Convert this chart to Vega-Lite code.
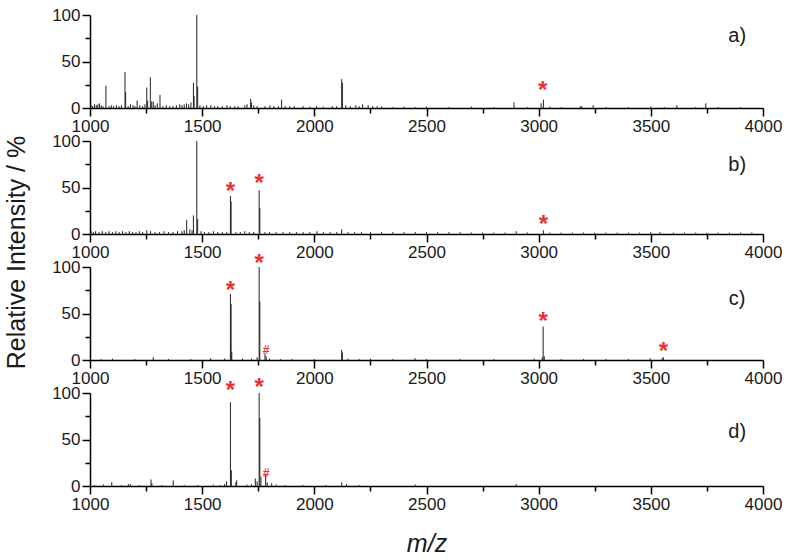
{
"$schema":"https://vega.github.io/schema/vega-lite/v6.json",
"background":"white",
"padding":{"left":4,"top":6,"right":4,"bottom":4},
"config":{"view":{"stroke":null},"font":"Liberation Sans",
 "axis":{"grid":false,"labelFlush":false,"labelOverlap":false,"domainColor":"#000","domainWidth":1.5,"tickColor":"#000","tickWidth":1.5,"tickSize":8,"labelFont":"Liberation Sans","labelFontSize":17,"labelColor":"#1a1a1a","labelPadding":2,"titleFont":"Liberation Sans","titleFontWeight":"normal","titleColor":"#1a1a1a"}},
"datasets":{
"spec":[
{"p":"a","mz":1071,"i":24},{"p":"a","mz":1156,"i":38.6},{"p":"a","mz":1159,"i":17},{"p":"a","mz":1210,"i":8},{"p":"a","mz":1253,"i":22},{"p":"a","mz":1257,"i":8},{"p":"a","mz":1269,"i":33},{"p":"a","mz":1275,"i":7},{"p":"a","mz":1282,"i":7},{"p":"a","mz":1312,"i":14},{"p":"a","mz":1461,"i":27},{"p":"a","mz":1464,"i":13},{"p":"a","mz":1476,"i":100},{"p":"a","mz":1480,"i":23},{"p":"a","mz":1716,"i":10},{"p":"a","mz":1720,"i":6},{"p":"a","mz":1854,"i":9},{"p":"a","mz":2122,"i":31},{"p":"a","mz":2125,"i":27},{"p":"a","mz":2890,"i":6},{"p":"a","mz":3011,"i":5},{"p":"a","mz":3021,"i":9},{"p":"a","mz":3192,"i":2},{"p":"a","mz":3243,"i":3},{"p":"a","mz":3616,"i":3},{"p":"a","mz":3745,"i":5},
{"p":"a","mz":1005,"i":3},{"p":"a","mz":1012,"i":2},{"p":"a","mz":1020,"i":4},{"p":"a","mz":1028,"i":3},{"p":"a","mz":1035,"i":4},{"p":"a","mz":1042,"i":5},{"p":"a","mz":1050,"i":3},{"p":"a","mz":1058,"i":2},{"p":"a","mz":1085,"i":2},{"p":"a","mz":1095,"i":3},{"p":"a","mz":1105,"i":2},{"p":"a","mz":1118,"i":3},{"p":"a","mz":1130,"i":2},{"p":"a","mz":1140,"i":3},{"p":"a","mz":1170,"i":2},{"p":"a","mz":1180,"i":4},{"p":"a","mz":1192,"i":3},{"p":"a","mz":1200,"i":2},{"p":"a","mz":1222,"i":3},{"p":"a","mz":1235,"i":2},{"p":"a","mz":1245,"i":4},{"p":"a","mz":1290,"i":3},{"p":"a","mz":1300,"i":5},{"p":"a","mz":1325,"i":2},{"p":"a","mz":1340,"i":3},{"p":"a","mz":1355,"i":2},{"p":"a","mz":1370,"i":2},{"p":"a","mz":1385,"i":3},{"p":"a","mz":1400,"i":4},{"p":"a","mz":1410,"i":3},{"p":"a","mz":1420,"i":4},{"p":"a","mz":1430,"i":5},{"p":"a","mz":1440,"i":4},{"p":"a","mz":1450,"i":6},{"p":"a","mz":1490,"i":3},{"p":"a","mz":1505,"i":2},{"p":"a","mz":1520,"i":3},{"p":"a","mz":1539,"i":3},{"p":"a","mz":1555,"i":2},{"p":"a","mz":1570,"i":2},{"p":"a","mz":1590,"i":2},{"p":"a","mz":1610,"i":3},{"p":"a","mz":1625,"i":2},{"p":"a","mz":1645,"i":2},{"p":"a","mz":1660,"i":2},{"p":"a","mz":1690,"i":3},{"p":"a","mz":1700,"i":4},{"p":"a","mz":1730,"i":3},{"p":"a","mz":1745,"i":2},{"p":"a","mz":1780,"i":2},{"p":"a","mz":1802,"i":3},{"p":"a","mz":1820,"i":2},{"p":"a","mz":1840,"i":2},{"p":"a","mz":1870,"i":2},{"p":"a","mz":1890,"i":2},{"p":"a","mz":1910,"i":2},{"p":"a","mz":1950,"i":2},{"p":"a","mz":1980,"i":1.5},{"p":"a","mz":2010,"i":2},{"p":"a","mz":2040,"i":1.5},{"p":"a","mz":2080,"i":2},{"p":"a","mz":2100,"i":2},{"p":"a","mz":2140,"i":3},{"p":"a","mz":2160,"i":2},{"p":"a","mz":2185,"i":3},{"p":"a","mz":2200,"i":2},{"p":"a","mz":2215,"i":4},{"p":"a","mz":2240,"i":3},{"p":"a","mz":2260,"i":2},{"p":"a","mz":2280,"i":2},{"p":"a","mz":2300,"i":1.5},{"p":"a","mz":2350,"i":1},{"p":"a","mz":2400,"i":1.5},{"p":"a","mz":2450,"i":1},{"p":"a","mz":2500,"i":1.5},{"p":"a","mz":2600,"i":1},{"p":"a","mz":2700,"i":1.5},{"p":"a","mz":2800,"i":1},{"p":"a","mz":2950,"i":1},{"p":"a","mz":3050,"i":1.5},{"p":"a","mz":3100,"i":1},{"p":"a","mz":3185,"i":2},{"p":"a","mz":3300,"i":1},{"p":"a","mz":3400,"i":1},{"p":"a","mz":3500,"i":1.5},{"p":"a","mz":3560,"i":1},{"p":"a","mz":3700,"i":1},{"p":"a","mz":3800,"i":1},{"p":"a","mz":3900,"i":1},
{"p":"b","mz":1431,"i":15},{"p":"b","mz":1461,"i":20},{"p":"b","mz":1476,"i":100},{"p":"b","mz":1480,"i":16},{"p":"b","mz":1626,"i":41},{"p":"b","mz":1629,"i":35},{"p":"b","mz":1754,"i":47},{"p":"b","mz":1757,"i":28},{"p":"b","mz":1253,"i":4},{"p":"b","mz":2122,"i":5},{"p":"b","mz":2012,"i":3},{"p":"b","mz":2900,"i":3},{"p":"b","mz":3021,"i":4},{"p":"b","mz":3500,"i":2},{"p":"b","mz":3540,"i":2},
{"p":"b","mz":1005,"i":3},{"p":"b","mz":1015,"i":2},{"p":"b","mz":1025,"i":3},{"p":"b","mz":1040,"i":2},{"p":"b","mz":1055,"i":3},{"p":"b","mz":1070,"i":2},{"p":"b","mz":1085,"i":3},{"p":"b","mz":1100,"i":2},{"p":"b","mz":1115,"i":3},{"p":"b","mz":1130,"i":2},{"p":"b","mz":1145,"i":3},{"p":"b","mz":1160,"i":2},{"p":"b","mz":1175,"i":3},{"p":"b","mz":1190,"i":2},{"p":"b","mz":1205,"i":2},{"p":"b","mz":1220,"i":3},{"p":"b","mz":1235,"i":2},{"p":"b","mz":1270,"i":3},{"p":"b","mz":1290,"i":2},{"p":"b","mz":1310,"i":2},{"p":"b","mz":1330,"i":3},{"p":"b","mz":1350,"i":2},{"p":"b","mz":1370,"i":2},{"p":"b","mz":1390,"i":3},{"p":"b","mz":1410,"i":3},{"p":"b","mz":1420,"i":4},{"p":"b","mz":1445,"i":5},{"p":"b","mz":1455,"i":4},{"p":"b","mz":1495,"i":3},{"p":"b","mz":1510,"i":2},{"p":"b","mz":1530,"i":2},{"p":"b","mz":1550,"i":3},{"p":"b","mz":1570,"i":2},{"p":"b","mz":1590,"i":2},{"p":"b","mz":1610,"i":2},{"p":"b","mz":1650,"i":2},{"p":"b","mz":1670,"i":2},{"p":"b","mz":1690,"i":3},{"p":"b","mz":1710,"i":2},{"p":"b","mz":1730,"i":2},{"p":"b","mz":1780,"i":2},{"p":"b","mz":1800,"i":2},{"p":"b","mz":1830,"i":2},{"p":"b","mz":1860,"i":2},{"p":"b","mz":1890,"i":2},{"p":"b","mz":1920,"i":2},{"p":"b","mz":1950,"i":2},{"p":"b","mz":1980,"i":2},{"p":"b","mz":2040,"i":2},{"p":"b","mz":2070,"i":2},{"p":"b","mz":2100,"i":2},{"p":"b","mz":2150,"i":2},{"p":"b","mz":2180,"i":2},{"p":"b","mz":2210,"i":2},{"p":"b","mz":2250,"i":2},{"p":"b","mz":2300,"i":2},{"p":"b","mz":2350,"i":2},{"p":"b","mz":2400,"i":2},{"p":"b","mz":2450,"i":2},{"p":"b","mz":2500,"i":2},{"p":"b","mz":2550,"i":2},{"p":"b","mz":2600,"i":2},{"p":"b","mz":2650,"i":2},{"p":"b","mz":2700,"i":1.5},{"p":"b","mz":2750,"i":1.5},{"p":"b","mz":2800,"i":1.5},{"p":"b","mz":2850,"i":1.5},{"p":"b","mz":2950,"i":1.5},{"p":"b","mz":3050,"i":1.5},{"p":"b","mz":3100,"i":1.5},{"p":"b","mz":3150,"i":1.5},{"p":"b","mz":3200,"i":1.5},{"p":"b","mz":3250,"i":1.5},{"p":"b","mz":3300,"i":1.5},{"p":"b","mz":3350,"i":1.5},{"p":"b","mz":3400,"i":1.5},{"p":"b","mz":3450,"i":1.5},{"p":"b","mz":3600,"i":1.5},{"p":"b","mz":3650,"i":1.5},{"p":"b","mz":3700,"i":1.5},{"p":"b","mz":3750,"i":1.5},{"p":"b","mz":3800,"i":1.5},{"p":"b","mz":3850,"i":1.5},{"p":"b","mz":3900,"i":1.5},{"p":"b","mz":3950,"i":1.5},
{"p":"c","mz":1626,"i":71},{"p":"c","mz":1629,"i":60},{"p":"c","mz":1632,"i":9},{"p":"c","mz":1754,"i":100},{"p":"c","mz":1757,"i":63},{"p":"c","mz":1745,"i":3},{"p":"c","mz":1780,"i":7},{"p":"c","mz":1785,"i":4},{"p":"c","mz":2122,"i":11},{"p":"c","mz":2125,"i":8},{"p":"c","mz":1282,"i":3},{"p":"c","mz":1538,"i":2},{"p":"c","mz":3020,"i":36},{"p":"c","mz":3016,"i":3},{"p":"c","mz":3025,"i":4},{"p":"c","mz":3556,"i":3},{"p":"c","mz":3550,"i":2},{"p":"c","mz":3497,"i":2},{"p":"c","mz":2449,"i":2},{"p":"c","mz":1050,"i":1},{"p":"c","mz":1100,"i":1.5},{"p":"c","mz":1200,"i":1},{"p":"c","mz":1350,"i":1},{"p":"c","mz":1450,"i":1},{"p":"c","mz":1600,"i":1.5},{"p":"c","mz":1680,"i":1.5},{"p":"c","mz":1720,"i":1.5},{"p":"c","mz":1800,"i":1.5},{"p":"c","mz":1850,"i":1},{"p":"c","mz":1900,"i":1},{"p":"c","mz":2000,"i":1},{"p":"c","mz":2150,"i":1.5},{"p":"c","mz":2200,"i":1},{"p":"c","mz":2250,"i":1.5},{"p":"c","mz":2350,"i":1},{"p":"c","mz":2500,"i":1},{"p":"c","mz":2650,"i":1},{"p":"c","mz":2800,"i":1},{"p":"c","mz":2980,"i":1.5},{"p":"c","mz":3100,"i":1},{"p":"c","mz":3200,"i":1},{"p":"c","mz":3300,"i":1},{"p":"c","mz":3400,"i":1},
{"p":"d","mz":1626,"i":90},{"p":"d","mz":1630,"i":17},{"p":"d","mz":1654,"i":6},{"p":"d","mz":1650,"i":4},{"p":"d","mz":1609,"i":5},{"p":"d","mz":1600,"i":2},{"p":"d","mz":1754,"i":100},{"p":"d","mz":1757,"i":73},{"p":"d","mz":1737,"i":8},{"p":"d","mz":1745,"i":5},{"p":"d","mz":1762,"i":10},{"p":"d","mz":1783,"i":12},{"p":"d","mz":1790,"i":4},{"p":"d","mz":1810,"i":3},{"p":"d","mz":1097,"i":4},{"p":"d","mz":1272,"i":7},{"p":"d","mz":1276,"i":3},{"p":"d","mz":1371,"i":6},{"p":"d","mz":1171,"i":2},{"p":"d","mz":1180,"i":2},{"p":"d","mz":2122,"i":4},{"p":"d","mz":2144,"i":2},{"p":"d","mz":2900,"i":2},{"p":"d","mz":1020,"i":1},{"p":"d","mz":1060,"i":1.5},{"p":"d","mz":1140,"i":1},{"p":"d","mz":1220,"i":1},{"p":"d","mz":1320,"i":1},{"p":"d","mz":1420,"i":1},{"p":"d","mz":1480,"i":1},{"p":"d","mz":1550,"i":1.5},{"p":"d","mz":1580,"i":1},{"p":"d","mz":1700,"i":1.5},{"p":"d","mz":1720,"i":2},{"p":"d","mz":1830,"i":1.5},{"p":"d","mz":1870,"i":1},{"p":"d","mz":1950,"i":1},{"p":"d","mz":2050,"i":1},{"p":"d","mz":2200,"i":1},{"p":"d","mz":2450,"i":1.5}
],
"marks":[
{"p":"a","t":"*","mz":3018,"i":22.6},
{"p":"b","t":"*","mz":1626,"i":50},{"p":"b","t":"*","mz":1754,"i":58},{"p":"b","t":"*","mz":3021,"i":14},
{"p":"c","t":"*","mz":1626,"i":79},{"p":"c","t":"*","mz":1754,"i":108},{"p":"c","t":"#","mz":1785,"i":15},{"p":"c","t":"*","mz":3020,"i":45},{"p":"c","t":"*","mz":3556,"i":13},
{"p":"d","t":"*","mz":1626,"i":106},{"p":"d","t":"*","mz":1754,"i":110},{"p":"d","t":"#","mz":1785,"i":18.5}
],
"labels":[
{"p":"a","t":"a)","mz":3885,"i":77},{"p":"b","t":"b)","mz":3885,"i":74},{"p":"c","t":"c)","mz":3885,"i":66},{"p":"d","t":"d)","mz":3885,"i":58}
],
"dummy":[{"mz":1000,"i":0}]
},
"bounds":"flush",
"spacing":33,
"vconcat":[
{"width":673,"height":93,"resolve":{"axis":{"x":"independent","y":"independent"}},"layer":[
 {"data":{"name":"spec"},"transform":[{"filter":"datum.p=='a'"}],"mark":{"type":"rule","color":"#222","strokeWidth":1},
  "encoding":{"x":{"field":"mz","type":"quantitative","scale":{"domain":[1000,4000],"nice":false,"zero":false},"axis":{"values":[1000,1500,2000,2500,3000,3500,4000],"format":"d","title":null}},
   "y":{"field":"i","type":"quantitative","scale":{"domain":[0,100],"nice":false},"axis":{"values":[0,50,100],"title":null}},"y2":{"datum":0}}},
 {"data":{"name":"dummy"},"mark":{"type":"point","opacity":0},
  "encoding":{"x":{"field":"mz","type":"quantitative","axis":{"values":[1250,1750,2250,2750,3250,3750],"labels":false,"domain":false,"tickSize":5,"title":null,"orient":"bottom"}},
   "y":{"field":"i","type":"quantitative","axis":{"values":[25,75],"labels":false,"domain":false,"tickSize":5,"title":null,"orient":"left"}}}},
 {"data":{"name":"marks"},"transform":[{"filter":"datum.p=='a' && datum.t=='*'"}],"mark":{"type":"text","color":"#e8312f","fontSize":24,"fontWeight":"bold","dy":4},
  "encoding":{"x":{"field":"mz","type":"quantitative","axis":null},"y":{"field":"i","type":"quantitative","axis":null},"text":{"field":"t"}}},
 {"data":{"name":"labels"},"transform":[{"filter":"datum.p=='a'"}],"mark":{"type":"text","color":"#1a1a1a","fontSize":20,"baseline":"middle"},
  "encoding":{"x":{"field":"mz","type":"quantitative","axis":null},"y":{"field":"i","type":"quantitative","axis":null},"text":{"field":"t"}}}
]},
{"width":673,"height":93,"resolve":{"axis":{"x":"independent","y":"independent"}},"layer":[
 {"data":{"name":"spec"},"transform":[{"filter":"datum.p=='b'"}],"mark":{"type":"rule","color":"#222","strokeWidth":1},
  "encoding":{"x":{"field":"mz","type":"quantitative","scale":{"domain":[1000,4000],"nice":false,"zero":false},"axis":{"values":[1000,1500,2000,2500,3000,3500,4000],"format":"d","title":null}},
   "y":{"field":"i","type":"quantitative","scale":{"domain":[0,100],"nice":false},"axis":{"values":[0,50,100],"title":"Relative Intensity / %","titleFontSize":25,"titleY":111,"titlePadding":22}},"y2":{"datum":0}}},
 {"data":{"name":"dummy"},"mark":{"type":"point","opacity":0},
  "encoding":{"x":{"field":"mz","type":"quantitative","axis":{"values":[1250,1750,2250,2750,3250,3750],"labels":false,"domain":false,"tickSize":5,"title":null,"orient":"bottom"}},
   "y":{"field":"i","type":"quantitative","axis":{"values":[25,75],"labels":false,"domain":false,"tickSize":5,"title":null,"orient":"left"}}}},
 {"data":{"name":"marks"},"transform":[{"filter":"datum.p=='b' && datum.t=='*'"}],"mark":{"type":"text","color":"#e8312f","fontSize":24,"fontWeight":"bold","dy":4},
  "encoding":{"x":{"field":"mz","type":"quantitative","axis":null},"y":{"field":"i","type":"quantitative","axis":null},"text":{"field":"t"}}},
 {"data":{"name":"labels"},"transform":[{"filter":"datum.p=='b'"}],"mark":{"type":"text","color":"#1a1a1a","fontSize":20,"baseline":"middle"},
  "encoding":{"x":{"field":"mz","type":"quantitative","axis":null},"y":{"field":"i","type":"quantitative","axis":null},"text":{"field":"t"}}}
]},
{"width":673,"height":93,"resolve":{"axis":{"x":"independent","y":"independent"}},"layer":[
 {"data":{"name":"spec"},"transform":[{"filter":"datum.p=='c'"}],"mark":{"type":"rule","color":"#222","strokeWidth":1},
  "encoding":{"x":{"field":"mz","type":"quantitative","scale":{"domain":[1000,4000],"nice":false,"zero":false},"axis":{"values":[1000,1500,2000,2500,3000,3500,4000],"format":"d","title":null}},
   "y":{"field":"i","type":"quantitative","scale":{"domain":[0,100],"nice":false},"axis":{"values":[0,50,100],"title":null}},"y2":{"datum":0}}},
 {"data":{"name":"dummy"},"mark":{"type":"point","opacity":0},
  "encoding":{"x":{"field":"mz","type":"quantitative","axis":{"values":[1250,1750,2250,2750,3250,3750],"labels":false,"domain":false,"tickSize":5,"title":null,"orient":"bottom"}},
   "y":{"field":"i","type":"quantitative","axis":{"values":[25,75],"labels":false,"domain":false,"tickSize":5,"title":null,"orient":"left"}}}},
 {"data":{"name":"marks"},"transform":[{"filter":"datum.p=='c' && datum.t=='*'"}],"mark":{"type":"text","color":"#e8312f","fontSize":24,"fontWeight":"bold","dy":4},
  "encoding":{"x":{"field":"mz","type":"quantitative","axis":null},"y":{"field":"i","type":"quantitative","axis":null},"text":{"field":"t"}}},
 {"data":{"name":"marks"},"transform":[{"filter":"datum.p=='c' && datum.t=='#'"}],"mark":{"type":"text","color":"#e8312f","fontSize":12,"fontWeight":"bold","dy":4},
  "encoding":{"x":{"field":"mz","type":"quantitative","axis":null},"y":{"field":"i","type":"quantitative","axis":null},"text":{"field":"t"}}},
 {"data":{"name":"labels"},"transform":[{"filter":"datum.p=='c'"}],"mark":{"type":"text","color":"#1a1a1a","fontSize":20,"baseline":"middle"},
  "encoding":{"x":{"field":"mz","type":"quantitative","axis":null},"y":{"field":"i","type":"quantitative","axis":null},"text":{"field":"t"}}}
]},
{"width":673,"height":93,"resolve":{"axis":{"x":"independent","y":"independent"}},"layer":[
 {"data":{"name":"spec"},"transform":[{"filter":"datum.p=='d'"}],"mark":{"type":"rule","color":"#222","strokeWidth":1},
  "encoding":{"x":{"field":"mz","type":"quantitative","scale":{"domain":[1000,4000],"nice":false,"zero":false},"axis":{"values":[1000,1500,2000,2500,3000,3500,4000],"format":"d","title":"m/z","titleFontSize":25,"titleFontStyle":"italic","titlePadding":19}},
   "y":{"field":"i","type":"quantitative","scale":{"domain":[0,100],"nice":false},"axis":{"values":[0,50,100],"title":null}},"y2":{"datum":0}}},
 {"data":{"name":"dummy"},"mark":{"type":"point","opacity":0},
  "encoding":{"x":{"field":"mz","type":"quantitative","axis":{"values":[1250,1750,2250,2750,3250,3750],"labels":false,"domain":false,"tickSize":5,"title":null,"orient":"bottom"}},
   "y":{"field":"i","type":"quantitative","axis":{"values":[25,75],"labels":false,"domain":false,"tickSize":5,"title":null,"orient":"left"}}}},
 {"data":{"name":"marks"},"transform":[{"filter":"datum.p=='d' && datum.t=='*'"}],"mark":{"type":"text","color":"#e8312f","fontSize":24,"fontWeight":"bold","dy":4},
  "encoding":{"x":{"field":"mz","type":"quantitative","axis":null},"y":{"field":"i","type":"quantitative","axis":null},"text":{"field":"t"}}},
 {"data":{"name":"marks"},"transform":[{"filter":"datum.p=='d' && datum.t=='#'"}],"mark":{"type":"text","color":"#e8312f","fontSize":12,"fontWeight":"bold","dy":4},
  "encoding":{"x":{"field":"mz","type":"quantitative","axis":null},"y":{"field":"i","type":"quantitative","axis":null},"text":{"field":"t"}}},
 {"data":{"name":"labels"},"transform":[{"filter":"datum.p=='d'"}],"mark":{"type":"text","color":"#1a1a1a","fontSize":20,"baseline":"middle"},
  "encoding":{"x":{"field":"mz","type":"quantitative","axis":null},"y":{"field":"i","type":"quantitative","axis":null},"text":{"field":"t"}}}
]}
]
}
